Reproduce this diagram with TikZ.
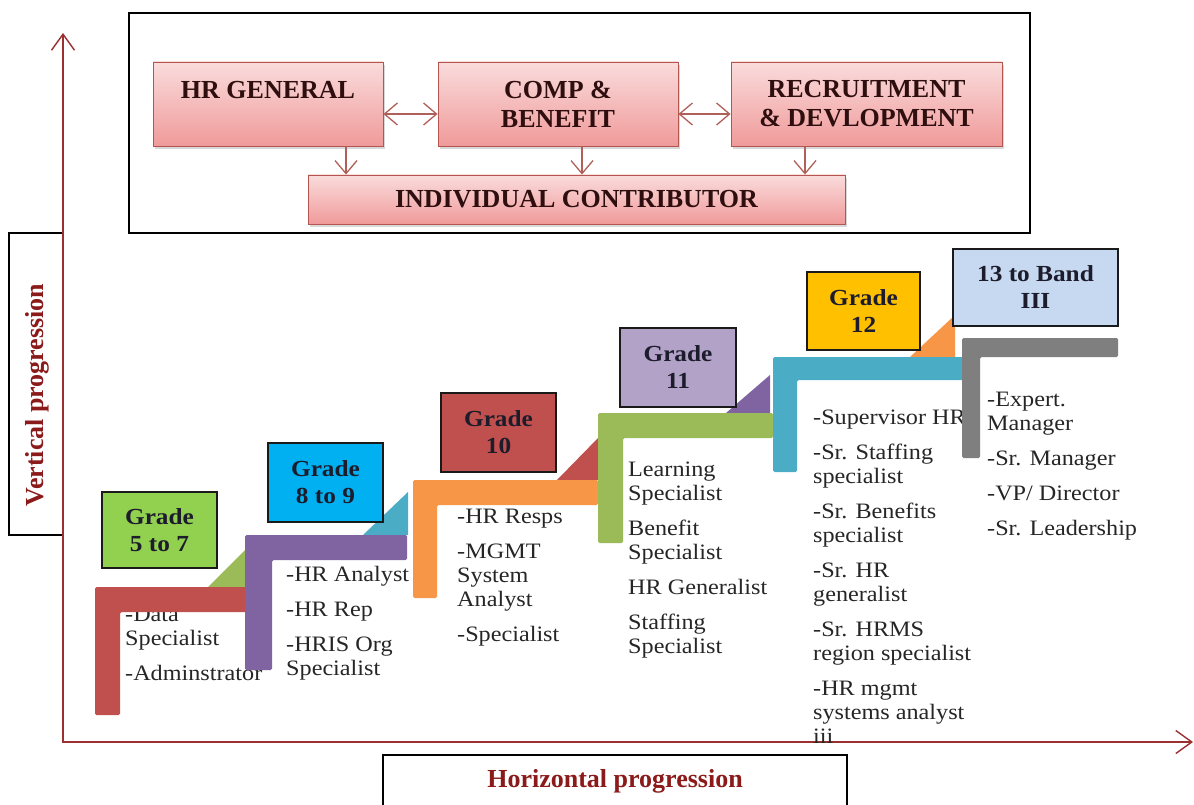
\documentclass[tikz,border=0pt]{standalone}
\usepackage{fontspec}
\setmainfont{Liberation Serif}
\newfontfamily\listfont{Liberation Serif}[FakeStretch=1.1]
\newfontfamily\gradefont{Liberation Serif}[FakeStretch=1.1]
\usetikzlibrary{arrows.meta,shadows}
\definecolor{pinktop}{HTML}{FADCDC}
\definecolor{pinkbot}{HTML}{F09A9A}
\definecolor{pinkedge}{HTML}{B5554F}
\definecolor{titletext}{HTML}{2E0E0E}
\definecolor{flowline}{HTML}{B0605A}
\definecolor{axisred}{HTML}{9C2F2F}
\definecolor{labelred}{HTML}{8B1A1A}
\definecolor{gradeedge}{HTML}{1A1A1A}
\definecolor{gradetext}{HTML}{1C1C2C}
\definecolor{listcol}{HTML}{262626}
\definecolor{barred}{HTML}{C0504D}
\definecolor{barpurple}{HTML}{8064A2}
\definecolor{barorange}{HTML}{F79646}
\definecolor{bargreen}{HTML}{9BBB59}
\definecolor{barteal}{HTML}{4BACC6}
\definecolor{bargray}{HTML}{7F7F7F}
\definecolor{gA}{HTML}{92D050}
\definecolor{gB}{HTML}{00B0F0}
\definecolor{gC}{HTML}{C0504D}
\definecolor{gD}{HTML}{B3A2C7}
\definecolor{gE}{HTML}{FFC000}
\definecolor{gF}{HTML}{C6D9F1}
\tikzset{
  frame/.style={draw=black, line width=1.3pt},
  pinkbox/.style={draw=pinkedge, line width=0.9pt, top color=pinktop, bottom color=pinkbot,
    drop shadow={shadow xshift=2pt, shadow yshift=-3pt, opacity=0.3},
    text=titletext, font=\fontsize{26}{29}\selectfont\bfseries, align=center, inner sep=0pt},
  flowtip/.style={draw=flowline, line width=1.3pt,
    >={Straight Barb[length=13pt,width=22pt]}},
  axisline/.style={draw=axisred, line width=1.4pt,
    >={Straight Barb[length=16pt,width=23pt]}},
  gradebox/.style={draw=gradeedge, line width=1.4pt, text=gradetext,
    font=\gradefont\fontsize{23}{27}\selectfont\bfseries, align=center, inner sep=0pt},
  listnode/.style={text=listcol, font=\listfont\fontsize{22}{24}\selectfont, align=left,
    inner sep=0pt, anchor=north west},
  axislabel/.style={text=labelred, font=\fontsize{26}{30}\selectfont\bfseries, inner sep=0pt},
  stepbar/.style={rounded corners=1.5pt}
}
\begin{document}
\begin{tikzpicture}[x=1pt,y=-1pt]
\useasboundingbox[fill=white] (0,0) rectangle (1194,805);

% top frame and boxes
\node[frame, minimum width=901pt, minimum height=220pt] (topframe) at (579.5,123) {};
\node[pinkbox, minimum width=230pt, minimum height=84pt] (hrg) at (268,104) {HR GENERAL\\\mbox{}};
\node[pinkbox, minimum width=240pt, minimum height=84pt] (comp) at (558,104) {COMP \&\\BENEFIT};
\node[pinkbox, minimum width=271pt, minimum height=84pt] (rec) at (866.5,104) {RECRUITMENT\\\& DEVLOPMENT};
\node[pinkbox, minimum width=537pt, minimum height=49pt] (ic) at (576.5,199.5) {INDIVIDUAL CONTRIBUTOR};

\draw[flowtip,<->] ([yshift=-10pt]hrg.east) -- ([yshift=-10pt]comp.west);
\draw[flowtip,<->] ([yshift=-10pt]comp.east) -- ([yshift=-10pt]rec.west);
\draw[flowtip,->] ([xshift=78pt]hrg.south) -- ([xshift=78pt]hrg.south |- ic.north);
\draw[flowtip,->] ([xshift=24pt]comp.south) -- ([xshift=24pt]comp.south |- ic.north);
\draw[flowtip,->] ([xshift=-61.5pt]rec.south) -- ([xshift=-61.5pt]rec.south |- ic.north);

% axes
\node[frame, minimum width=54pt, minimum height=302pt] (vbox) at (36,384) {};
\node[axislabel, rotate=90] (vlabel) at (37,395) {Vertical progression};
\draw[frame] (383,805) -- (383,755) -- (847,755) -- (847,805);
\node[axislabel] (hlabel) at (615,781) {Horizontal progression};
\coordinate (ytop) at (63,33);
\coordinate (orig) at (63,742);
\coordinate (xend) at (1193,742);
\draw[axisline,<->] (ytop) -- (orig) -- (xend);

% triangles
\fill[bargreen] (208,587) -- (256,587) -- (256,539) -- cycle;
\fill[barteal] (363,535) -- (408,535) -- (408,492) -- cycle;
\fill[barred] (557,480) -- (599,480) -- (599,437) -- cycle;
\fill[barpurple] (726,413) -- (770,413) -- (770,375) -- cycle;
\fill[barorange] (910,357) -- (955,357) -- (955,315) -- cycle;

% lists
\node[listnode] (la) at (125,607) {-Data\\Specialist\\[11pt]-Adminstrator};
\node[listnode] (lb) at (286,566) {-HR Analyst\\[11pt]-HR Rep\\[11pt]-HRIS Org\\Specialist};
\node[listnode] (lc) at (457,509) {-HR Resps\\[11pt]-MGMT\\System\\Analyst\\[11pt]-Specialist};
\node[listnode] (ld) at (628,462) {Learning\\Specialist\\[11pt]Benefit\\Specialist\\[11pt]HR Generalist\\[11pt]Staffing\\Specialist};
\node[listnode] (le) at (813,410) {-Supervisor HR\\[11pt]-Sr. Staffing\\specialist\\[11pt]-Sr. Benefits\\specialist\\[11pt]-Sr. HR\\generalist\\[11pt]-Sr. HRMS\\region specialist\\[11pt]-HR mgmt\\systems analyst\\iii};
\node[listnode] (lf) at (987,392) {-Expert.\\Manager\\[11pt]-Sr. Manager\\[11pt]-VP/ Director\\[11pt]-Sr. Leadership};

% step bars
\fill[stepbar,barred] (95,587) -- (248,587) -- (248,612) -- (120,612) -- (120,715) -- (95,715) -- cycle;
\fill[stepbar,barpurple] (245,535) -- (407,535) -- (407,560) -- (272,560) -- (272,670) -- (245,670) -- cycle;
\fill[stepbar,barorange] (413,480) -- (598,480) -- (598,505) -- (437,505) -- (437,598) -- (413,598) -- cycle;
\fill[stepbar,bargreen] (598,413) -- (773,413) -- (773,438) -- (623,438) -- (623,543) -- (598,543) -- cycle;
\fill[stepbar,barteal] (773,357) -- (963,357) -- (963,380) -- (797,380) -- (797,472) -- (773,472) -- cycle;
\fill[stepbar,bargray] (962,338) -- (1118,338) -- (1118,357) -- (980,357) -- (980,458) -- (962,458) -- cycle;

% grade boxes
\node[gradebox, fill=gA, minimum width=115pt, minimum height=76pt] (gra) at (159.5,530) {Grade\\5 to 7};
\node[gradebox, fill=gB, minimum width=115pt, minimum height=79pt] (grb) at (325.5,482.5) {Grade\\8 to 9};
\node[gradebox, fill=gC, minimum width=115pt, minimum height=79pt] (grc) at (498.5,432.5) {Grade\\10};
\node[gradebox, fill=gD, minimum width=116pt, minimum height=79pt] (grd) at (678,367.5) {Grade\\11};
\node[gradebox, fill=gE, minimum width=113pt, minimum height=78pt] (gre) at (863.5,311) {Grade\\12};
\node[gradebox, fill=gF, minimum width=165pt, minimum height=77pt] (grf) at (1035.5,287.5) {13 to Band\\III};
\end{tikzpicture}
\end{document}
